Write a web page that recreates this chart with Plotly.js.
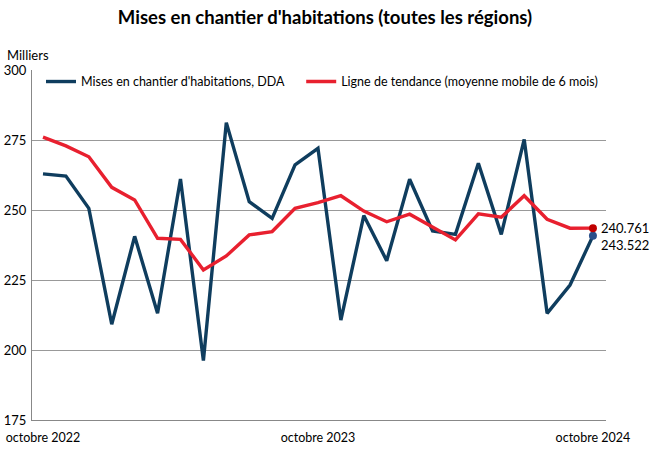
<!DOCTYPE html>
<html><head><meta charset="utf-8">
<script src="https://cdn.plot.ly/plotly-3.0.1.min.js"></script>
<style>body{margin:0;background:#fff}#c{width:650px;height:450px}</style>
</head><body><div id="c"></div>
<script>
const months = ["oct 2022","nov 2022","déc 2022","jan 2023","fév 2023","mar 2023","avr 2023","mai 2023","juin 2023","juil 2023","août 2023","sep 2023","oct 2023","nov 2023","déc 2023","jan 2024","fév 2024","mar 2024","avr 2024","mai 2024","juin 2024","juil 2024","août 2024","sep 2024","oct 2024"];
const starts = [262.9,262.1,250.6,209.2,240.6,213.1,261.1,196.2,281.2,253.0,247.0,266.1,272.0,210.7,248.0,231.9,261.0,242.5,241.3,266.7,241.3,275.2,213.1,223.2,240.761];
const trend = [276.0,272.9,269.0,258.1,253.6,239.9,239.5,228.6,233.6,241.1,242.3,250.6,252.6,255.1,249.6,245.8,248.5,244.0,239.3,248.6,247.4,255.1,246.7,243.5,243.522];
const tickIdx = [0,12,24];
const tickText = ["octobre 2022","octobre 2023","octobre 2024"];
const yTicks = [175,200,225,250,275,300];

const idx = months.map((m,i)=>i);
const last = idx.length-1;
const blue = "#0f3d5e", red = "#e8202f";
const font = "Lato, 'Open Sans', sans-serif";

const traces = [
 {x: idx, y: starts, type:"scatter", mode:"lines", name:"Mises en chantier d'habitations, DDA",
  line:{color:blue, width:3.4}, text: months, hoverinfo:"text+y", legend:"legend"},
 {x: idx, y: trend, type:"scatter", mode:"lines", name:"Ligne de tendance (moyenne mobile de 6 mois)",
  line:{color:red, width:3.4}, text: months, hoverinfo:"text+y", legend:"legend2"},
 {x:[idx[last]], y:[starts[last]], type:"scatter", mode:"markers", marker:{color:"#2a4f8a", size:8}, showlegend:false, hoverinfo:"skip"},
 {x:[idx[last]], y:[trend[last]], type:"scatter", mode:"markers", marker:{color:"#c00000", size:8}, showlegend:false, hoverinfo:"skip"}
];

const legendBase = {orientation:"h", xref:"paper", yref:"paper", y:0.966, xanchor:"left", yanchor:"middle", bgcolor:"rgba(255,255,255,0)", font:{size:12.5}, itemwidth:30};

const layout = {
 width:650, height:450,
 margin:{l:32, r:44, t:70, b:30},
 paper_bgcolor:"#fff", plot_bgcolor:"#fff",
 font:{family:font, size:12, color:"#000"},
 title:{text:"<b>Mises en chantier d'habitations (toutes les régions)</b>", x:0.5, xanchor:"center", y:0.96, yanchor:"middle", font:{size:18.5, family:font, color:"#000"}},
 xaxis:{range:[-0.48,24.57], tickvals:tickIdx, ticktext:tickText, showgrid:false, zeroline:false,
  showline:true, linecolor:"#888", linewidth:1, ticks:"", tickfont:{size:12.5}, ticklabelstandoff:6, fixedrange:true},
 yaxis:{range:[175,300], tickvals:yTicks, showgrid:true, gridcolor:"#999", gridwidth:1, zeroline:false,
  showline:true, linecolor:"#888", linewidth:1, ticks:"", tickfont:{size:13}, ticklabelstandoff:2},
 legend: Object.assign({}, legendBase, {x:0.0157}),
 legend2: Object.assign({}, legendBase, {x:0.469}),
 showlegend:true,
 annotations:[
  {xref:"paper", yref:"paper", x:-0.047, y:1.0, xanchor:"left", yanchor:"bottom", yshift:5, text:"Milliers", showarrow:false, font:{size:13}},
  {xref:"x", yref:"y", x:idx[last], y:trend[last], xanchor:"left", yanchor:"middle", xshift:6, yshift:0, text:String(starts[last]), showarrow:false, font:{size:13}},
  {xref:"x", yref:"y", x:idx[last], y:starts[last], xanchor:"left", yanchor:"middle", xshift:6, yshift:-9, text:String(trend[last]), showarrow:false, font:{size:13}}
 ]
};
Plotly.newPlot("c", traces, layout, {displayModeBar:false, staticPlot:true});
</script></body></html>
